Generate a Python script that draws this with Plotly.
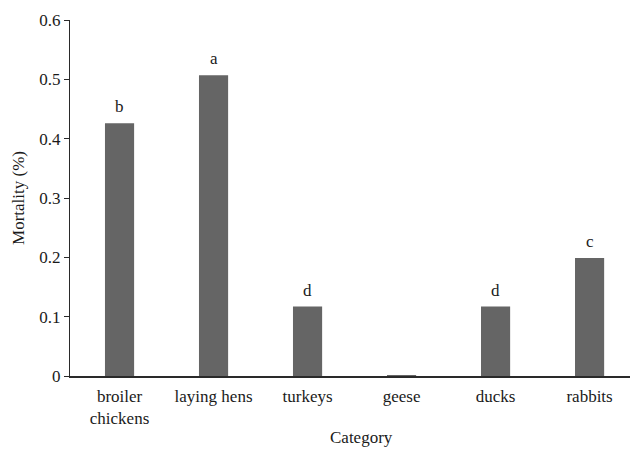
import plotly.graph_objects as go

categories = ["broiler<br>chickens", "laying hens", "turkeys", "geese", "ducks", "rabbits"]
mortality = [0.426, 0.507, 0.117, 0.001, 0.117, 0.199]
letters = ["b", "a", "d", "", "d", "c"]
y_ticks = [0, 0.1, 0.2, 0.3, 0.4, 0.5, 0.6]
y_tick_text = ["0", "0.1", "0.2", "0.3", "0.4", "0.5", "0.6"]

positions = list(range(len(categories)))
font_family = "Liberation Serif, Times New Roman, serif"
text_color = "#1a1a1a"

fig = go.Figure(
    go.Bar(
        x=positions,
        y=mortality,
        width=0.31,
        marker=dict(color="#656565", line=dict(width=0)),
        cliponaxis=False,
    )
)

# significance letters above each bar
annotations = [
    dict(
        x=p, y=v, xref="x", yref="y", text=t,
        showarrow=False, yanchor="bottom", yshift=5,
        font=dict(family=font_family, size=17, color=text_color),
    )
    for p, v, t in zip(positions, mortality, letters) if t
]
annotations.append(
    dict(
        text="Category",
        xref="paper", yref="paper",
        x=0.52, y=-0.172,
        xanchor="center", yanchor="middle",
        showarrow=False,
        font=dict(size=17, color=text_color, family=font_family),
    )
)

fig.update_layout(
    width=630,
    height=449,
    margin=dict(l=70, r=0, t=20, b=73),
    paper_bgcolor="white",
    plot_bgcolor="white",
    showlegend=False,
    font=dict(family=font_family, size=17, color=text_color),
    xaxis=dict(
        range=[-0.527, 5.43],
        tickmode="array",
        tickvals=positions,
        ticktext=categories,
        showgrid=False,
        zeroline=False,
        showline=True,
        linecolor="#2a2a2a",
        linewidth=1.5,
        ticks="",
        ticklabelstandoff=4,
        tickfont=dict(size=17, color=text_color),
    ),
    yaxis=dict(
        range=[0, 0.6],
        tickmode="array",
        tickvals=y_ticks,
        ticktext=y_tick_text,
        showgrid=False,
        zeroline=False,
        showline=True,
        linecolor="#2a2a2a",
        linewidth=1.2,
        ticks="outside",
        ticklen=5,
        tickcolor="#2a2a2a",
        tickfont=dict(size=17, color=text_color),
        title=dict(text="Mortality (%)", font=dict(size=17, color=text_color), standoff=10),
    ),
    annotations=annotations,
)

fig.write_html("out.html")
